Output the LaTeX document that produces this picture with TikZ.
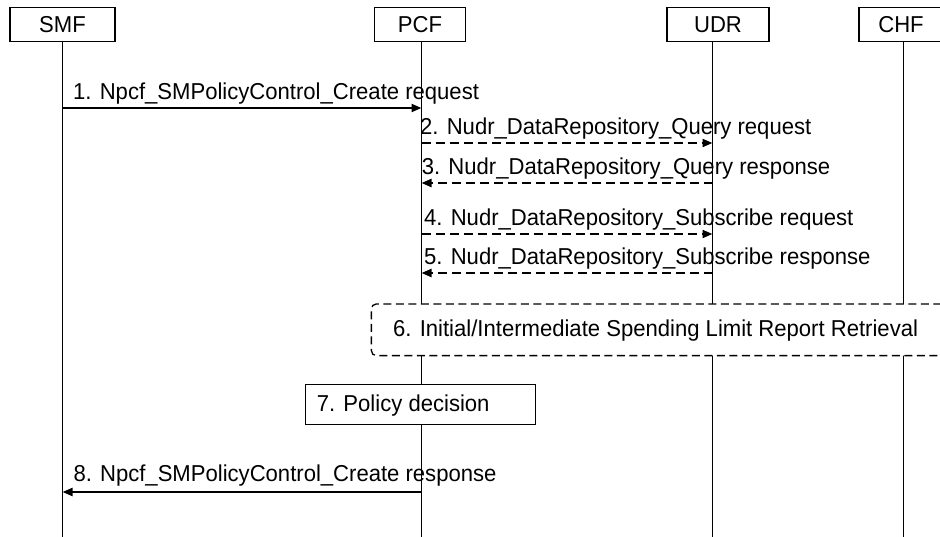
\documentclass[tikz,border=0pt]{standalone}
\usepackage{fontspec}
\setmainfont{Liberation Sans}[FakeStretch=0.96]
\usetikzlibrary{arrows.meta}
\begin{document}
\begin{tikzpicture}[x=1pt,y=-1pt,
  every node/.style={font=\fontsize{23}{27}\selectfont},
  hdr/.style={draw,line width=1.3pt,minimum height=34.4pt,inner sep=0pt,fill=white},
  life/.style={line width=1.3pt},
  msg/.style={line width=2pt,-{Triangle[length=10pt,width=8pt]}},
  dmsg/.style={msg,dash pattern=on 9pt off 5pt},
  lbl/.style={anchor=base west,inner sep=0pt},
  retbox/.style={draw,line width=1.3pt,dash pattern=on 8pt off 4.5pt,rounded corners=5pt,fill=white,inner sep=0pt},
  actbox/.style={draw,line width=1.3pt,fill=white,inner sep=0pt}]
\useasboundingbox (0,0) rectangle (940,537);
\fill[white] (0,0) rectangle (940,537);

% headers
\node[hdr,minimum width=105pt] (smf) at (62.5,24.5) {SMF};
\node[hdr,minimum width=91.4pt] (pcf) at (420,24.5) {PCF};
\node[hdr,minimum width=102pt] (udr) at (718,24.5) {UDR};
\node[hdr,minimum width=84pt] (chf) at (901,24.5) {CHF};

% lifeline ends
\coordinate (smfL) at (62.5,537);
\coordinate (pcfL) at (421.5,537);
\coordinate (udrL) at (712.5,537);
\coordinate (chfL) at (903.5,537);

\draw[life] (smf.south -| smfL) -- (smfL);
\draw[life] (pcf.south -| pcfL) -- (pcfL);
\draw[life] (udr.south -| udrL) -- (udrL);
\draw[life] (chf.south -| chfL) -- (chfL);

% step 6 box
\node[retbox,minimum width=600pt,minimum height=51.7pt,anchor=north west] (ret) at (370.7,303.3) {};
\node[lbl] (retT) at (393,336.7) {6. Initial/Intermediate Spending Limit Report Retrieval};

% step 7 box
\node[actbox,minimum width=230pt,minimum height=40pt,anchor=north west] (pol) at (305,384) {};
\node[lbl] (polT) at (316.7,411.7) {7. Policy decision};

% message rows
\coordinate (m1) at (0,108);
\coordinate (m2) at (0,143);
\coordinate (m3) at (0,183);
\coordinate (m4) at (0,234);
\coordinate (m5) at (0,273);
\coordinate (m8) at (0,492);

\draw[msg] (smfL |- m1) -- (pcfL |- m1);
\node[lbl] (l1) at (73,100) {1. Npcf\_SMPolicyControl\_Create request};

\draw[dmsg] (pcfL |- m2) -- (udrL |- m2);
\node[lbl] (l2) at (420,135) {2. Nudr\_DataRepository\_Query request};

\draw[dmsg] (udrL |- m3) -- (pcfL |- m3);
\node[lbl] (l3) at (421.7,175) {3. Nudr\_DataRepository\_Query response};

\draw[dmsg] (pcfL |- m4) -- (udrL |- m4);
\node[lbl] (l4) at (424,226) {4. Nudr\_DataRepository\_Subscribe request};

\draw[dmsg] (udrL |- m5) -- (pcfL |- m5);
\node[lbl] (l5) at (424,265) {5. Nudr\_DataRepository\_Subscribe response};

\draw[msg] (pcfL |- m8) -- (smfL |- m8);
\node[lbl] (l8) at (73.3,481.7) {8. Npcf\_SMPolicyControl\_Create response};
\end{tikzpicture}
\end{document}
